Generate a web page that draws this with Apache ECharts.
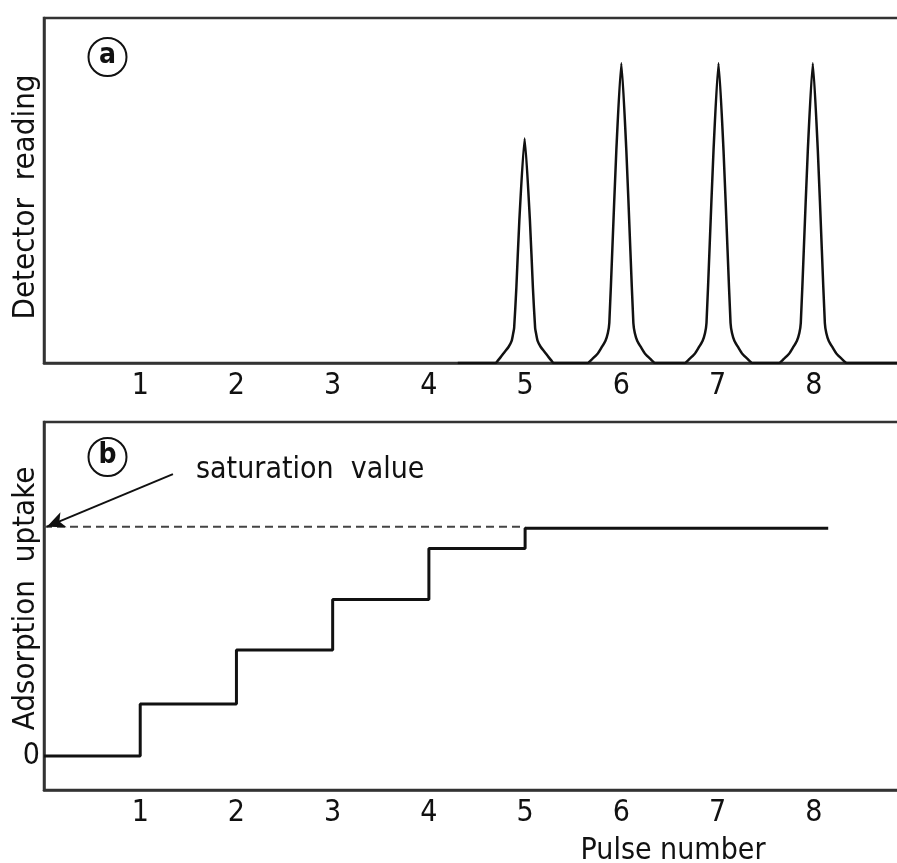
<!DOCTYPE html>
<html>
<head>
<meta charset="utf-8">
<script src="https://cdn.jsdelivr.net/npm/echarts@6/dist/echarts.min.js"></script>
<style>
html,body{margin:0;padding:0;background:#fff;}
#chart{width:897px;height:863px;}
</style>
</head>
<body>
<div id="chart"></div>
<script>
// ---- data ----
const xTickLabels = [1, 2, 3, 4, 5, 6, 7, 8];

// panel (a): detector reading, pulses 5..8 (x = pulse number, y = reading 0..100)
const baselineStart = [[4.3, 0]];
const peak5 = [[4.694, 0], [4.714, 0.6], [4.746, 1.7], [4.787, 3.2], [4.829, 4.7], [4.86, 6.4], [4.875, 8.4], [4.886, 10.2],
               [4.909, 21.8], [4.94, 41.3], [4.995, 65.1],
               [5.05, 41.3], [5.081, 21.8], [5.104, 10.2], [5.115, 8.4], [5.13, 6.4], [5.161, 4.7], [5.203, 3.2],
               [5.244, 1.7], [5.276, 0.6], [5.296, 0]];
const peak6 = [[5.647, 0], [5.699, 1.2], [5.751, 2.6], [5.792, 4.4], [5.834, 6.4], [5.86, 8.7], [5.875, 11.6],
               [5.906, 32.6], [5.948, 61.6], [6.0, 86.9],
               [6.052, 61.6], [6.094, 32.6], [6.125, 11.6], [6.14, 8.7], [6.166, 6.4], [6.208, 4.4], [6.249, 2.6],
               [6.301, 1.2], [6.353, 0]];
const peak7 = [[6.657, 0], [6.709, 1.2], [6.761, 2.6], [6.802, 4.4], [6.844, 6.4], [6.87, 8.7], [6.885, 11.6],
               [6.916, 32.6], [6.958, 61.6], [7.01, 86.9],
               [7.062, 61.6], [7.104, 32.6], [7.135, 11.6], [7.15, 8.7], [7.176, 6.4], [7.218, 4.4], [7.259, 2.6],
               [7.311, 1.2], [7.363, 0]];
const peak8 = [[7.637, 0], [7.689, 1.2], [7.741, 2.6], [7.782, 4.4], [7.824, 6.4], [7.85, 8.7], [7.865, 11.6],
               [7.896, 32.6], [7.938, 61.6], [7.99, 86.9],
               [8.042, 61.6], [8.084, 32.6], [8.115, 11.6], [8.13, 8.7], [8.156, 6.4], [8.198, 4.4], [8.239, 2.6],
               [8.291, 1.2], [8.343, 0]];
const baselineEnd = [[8.95, 0]];

// panel (b): adsorption uptake, step after each pulse
const stepX = [0, 1, 2, 3, 4, 5, 8.15];
const stepY = [0, 1, 2.04, 3.01, 3.99, 4.38, 4.38];
const saturationX = [0, 5];
const saturationY = 4.41;
const arrowFrom = [1.34, 5.42];
const arrowTo = [0.03, 4.41];

// ---- build ----
const FONT = '"DejaVu Sans Condensed", "DejaVu Sans", sans-serif';
const INK = '#111';
const AXIS = '#333';

const detectorData = [].concat(baselineStart, peak5, peak6, peak7, peak8, baselineEnd);
const stepData = stepX.map((x, i) => [x, stepY[i]]);
const satData = saturationX.map(x => [x, saturationY]);

function xAxisFor(gridIndex) {
  return {
    type: 'value', gridIndex, min: 0, max: 9, interval: 1,
    axisLine: { show: true, onZero: false, lineStyle: { color: AXIS, width: 2.5 } },
    axisTick: { show: false },
    splitLine: { show: false },
    axisLabel: {
      margin: 8, color: INK, fontFamily: FONT, fontSize: 30,
      formatter: v => xTickLabels.includes(v) ? String(v) : ''
    }
  };
}

const option = {
  animation: false,
  backgroundColor: '#fff',
  grid: [
    { left: 44, top: 18, right: -13, bottom: 500, outerBoundsMode: 'none', containLabel: false,
      show: true, borderColor: AXIS, borderWidth: 2.5, backgroundColor: 'transparent' },
    { left: 44, top: 422, right: -13, bottom: 73, outerBoundsMode: 'none', containLabel: false,
      show: true, borderColor: AXIS, borderWidth: 2.5, backgroundColor: 'transparent' }
  ],
  xAxis: [
    xAxisFor(0),
    Object.assign(xAxisFor(1), {
      name: 'Pulse number', nameLocation: 'middle', nameGap: 46, nameMoveOverlap: false,
      nameTextStyle: { color: INK, fontFamily: FONT, fontSize: 30, padding: [0, 0, 0, 392] }
    })
  ],
  yAxis: [
    {
      type: 'value', gridIndex: 0, min: 0, max: 100,
      name: 'Detector  reading', nameLocation: 'middle', nameGap: 3, nameMoveOverlap: false,
      nameTextStyle: { color: INK, fontFamily: FONT, fontSize: 31, padding: [0, 13, 0, 0] },
      axisLine: { show: true, lineStyle: { color: AXIS, width: 2.5 } },
      axisTick: { show: false }, splitLine: { show: false }, axisLabel: { show: false }
    },
    {
      type: 'value', gridIndex: 1, min: -0.654, max: 6.423,
      name: 'Adsorption  uptake', nameLocation: 'middle', nameGap: 3, nameMoveOverlap: false,
      nameTextStyle: { color: INK, fontFamily: FONT, fontSize: 31, padding: [0, 0, 0, 15] },
      axisLine: { show: true, onZero: false, lineStyle: { color: AXIS, width: 2.5 } },
      axisTick: { show: false }, splitLine: { show: false },
      axisLabel: { show: true, customValues: [0], margin: 4, color: INK, fontFamily: FONT, fontSize: 30 }
    }
  ],
  series: [
    {
      type: 'line', xAxisIndex: 0, yAxisIndex: 0, data: detectorData,
      showSymbol: false, smooth: 0.2,
      lineStyle: { color: INK, width: 2.5, join: 'round' }
    },
    {
      type: 'line', xAxisIndex: 1, yAxisIndex: 1, data: satData,
      showSymbol: false,
      lineStyle: { color: '#444', width: 2, type: [8, 5] },
      markLine: {
        silent: true, symbol: ['none', 'arrow'], symbolSize: [12, 18],
        label: { show: false },
        lineStyle: { color: INK, width: 2, type: 'solid' },
        data: [[{ coord: arrowFrom }, { coord: arrowTo }]]
      }
    },
    {
      type: 'line', xAxisIndex: 1, yAxisIndex: 1, data: stepData, step: 'end',
      showSymbol: false,
      lineStyle: { color: INK, width: 3 }
    }
  ],
  graphic: [
    { type: 'circle', shape: { cx: 107.5, cy: 57, r: 19 }, style: { fill: 'none', stroke: INK, lineWidth: 2 } },
    { type: 'text', x: 107.5, y: 56, style: { text: 'a', font: 'bold 28px ' + FONT, fill: INK, align: 'center', verticalAlign: 'middle' } },
    { type: 'circle', shape: { cx: 107.5, cy: 457, r: 19 }, style: { fill: 'none', stroke: INK, lineWidth: 2 } },
    { type: 'text', x: 107.5, y: 456, style: { text: 'b', font: 'bold 28px ' + FONT, fill: INK, align: 'center', verticalAlign: 'middle' } },
    { type: 'text', x: 196, y: 470, style: { text: 'saturation  value', font: '30px ' + FONT, fill: INK, align: 'left', verticalAlign: 'middle' } }
  ]
};

const chart = echarts.init(document.getElementById('chart'), null, { renderer: 'canvas' });
chart.setOption(option);
</script>
</body>
</html>
